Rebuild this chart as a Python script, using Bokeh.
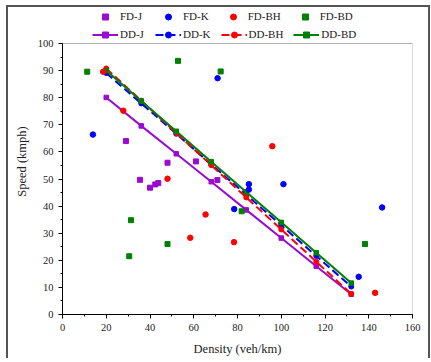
from bokeh.plotting import figure
from bokeh.models import Legend, LegendItem, Range1d, SingleIntervalTicker, BoxAnnotation
from bokeh.embed import file_html
from bokeh.resources import INLINE

# Field data (scatter)
fdj_k = [29.0, 35.4, 40.0, 42.4, 43.8, 48.0, 61.0, 70.8]
fdj_v = [64.0, 49.7, 46.8, 48.0, 48.5, 56.0, 56.5, 49.6]

fdk_k = [13.9, 70.9, 78.5, 85.2, 85.2, 101.0, 135.4, 146.1]
fdk_v = [66.4, 87.2, 38.9, 48.1, 46.1, 48.1, 13.9, 39.5]

fdbh_k = [18.6, 27.8, 48.0, 58.4, 65.4, 78.4, 95.9, 142.9]
fdbh_v = [89.6, 75.2, 50.1, 28.3, 36.9, 26.7, 62.1, 8.0]

fdbd_k = [11.3, 30.5, 31.3, 48.0, 52.8, 72.3, 81.9, 138.3]
fdbd_v = [89.6, 21.5, 34.8, 26.0, 93.6, 89.7, 38.1, 26.0]

# Model (DD) curves
dd_k = [20, 36, 52, 68, 84, 100, 116, 132]
ddj_v = [80.1, 69.6, 59.3, 49.0, 38.6, 28.2, 17.8, 7.5]
ddk_v = [89.1, 77.9, 66.7, 55.4, 44.2, 32.9, 21.6, 10.3]
ddbh_v = [90.8, 78.9, 67.0, 55.1, 43.2, 31.4, 19.5, 7.6]
ddbd_v = [90.0, 78.8, 67.6, 56.4, 45.2, 34.0, 22.8, 11.6]

# axis limits
X_MIN, X_MAX = 0, 160
Y_MIN, Y_MAX = 0, 100
Y_TOP = 112.92  # extra headroom above the data box for the legend

PURPLE = "#9A0AD0"
BLUE = "#0000FF"
RED = "#FF0000"
GREEN = "#008000"
FONT = "Liberation Serif"

p = figure(width=420, height=347, output_backend="svg", toolbar_location=None,
           x_range=Range1d(X_MIN, X_MAX), y_range=Range1d(Y_MIN, Y_TOP),
           min_border_left=54, min_border_right=16, min_border_top=1, min_border_bottom=40,
           frame_width=350, frame_height=306)
p.styles = {"border-top": "2px solid #555", "border-left": "2px solid #555",
            "border-right": "2px solid #555", "margin": "5px 0 0 6px"}
p.grid.visible = False
p.outline_line_color = None
p.background_fill_color = "white"
p.border_fill_color = "white"

# box around the data area
p.add_layout(BoxAnnotation(left=X_MIN, right=X_MAX, bottom=Y_MIN, top=Y_MAX,
                           fill_alpha=0, line_color="black", line_width=1))

p.xaxis.ticker = SingleIntervalTicker(interval=20, num_minor_ticks=2)
p.yaxis.ticker = SingleIntervalTicker(interval=10, num_minor_ticks=2)
p.yaxis.bounds = (Y_MIN, Y_MAX)
for ax in (p.xaxis, p.yaxis):
    ax.major_tick_in = 0
    ax.major_tick_out = 4
    ax.minor_tick_in = 0
    ax.minor_tick_out = 2
    ax.axis_line_color = "black"
    ax.major_tick_line_color = "black"
    ax.minor_tick_line_color = "black"
    ax.major_label_text_font = FONT
    ax.major_label_text_font_size = "10.5px"
    ax.major_label_text_color = "#222"
    ax.axis_label_text_font = FONT
    ax.axis_label_text_font_size = "12.5px"
    ax.axis_label_text_font_style = "normal"
    ax.axis_label_text_color = "#222"
p.xaxis.axis_label = "Density (veh/km)"
p.yaxis.axis_label = "Speed (kmph)"
p.xaxis.axis_label_standoff = 8
p.yaxis.axis_label_standoff = 6

# DD lines
l_j = p.line(dd_k, ddj_v, color=PURPLE, line_width=2)
m_j = p.scatter(dd_k, ddj_v, marker="square", size=4.5, color=PURPLE)
l_k = p.line(dd_k, ddk_v, color=BLUE, line_width=2, line_dash="8 4")
m_k = p.scatter(dd_k, ddk_v, marker="circle", size=5, color=BLUE)
l_bh = p.line(dd_k, ddbh_v, color=RED, line_width=2, line_dash="8 4")
m_bh = p.scatter(dd_k, ddbh_v, marker="circle", size=5, color=RED)
l_bd = p.line(dd_k, ddbd_v, color=GREEN, line_width=2)
m_bd = p.scatter(dd_k, ddbd_v, marker="square", size=4.5, color=GREEN)

# FD scatter
s_j = p.scatter(fdj_k, fdj_v, marker="square", size=5, color=PURPLE)
s_k = p.scatter(fdk_k, fdk_v, marker="circle", size=5.5, color=BLUE)
s_bh = p.scatter(fdbh_k, fdbh_v, marker="circle", size=5.5, color=RED)
s_bd = p.scatter(fdbd_k, fdbd_v, marker="square", size=5, color=GREEN)

def make_legend(items, vy, spacing, label_width):
    lg = Legend(items=items, orientation="horizontal", location=(30, vy),
                padding=0, margin=0, spacing=spacing, label_standoff=2,
                glyph_width=26, glyph_height=15, label_height=15, label_width=label_width,
                label_text_font=FONT, label_text_font_size="11px",
                label_text_color="#222", border_line_color=None,
                background_fill_color="white", background_fill_alpha=1.0)
    p.add_layout(lg, "center")
    return lg

make_legend([LegendItem(label="FD-J", renderers=[s_j]),
             LegendItem(label="FD-K", renderers=[s_k]),
             LegendItem(label="FD-BH", renderers=[s_bh]),
             LegendItem(label="FD-BD", renderers=[s_bd])], 290.5, 11, 24)
make_legend([LegendItem(label="DD-J", renderers=[l_j, m_j]),
             LegendItem(label="DD-K", renderers=[l_k, m_k]),
             LegendItem(label="DD-BH", renderers=[l_bh, m_bh]),
             LegendItem(label="DD-BD", renderers=[l_bd, m_bd])], 272.5, 10, 25)

open("out.html", "w").write(file_html(p, INLINE))
